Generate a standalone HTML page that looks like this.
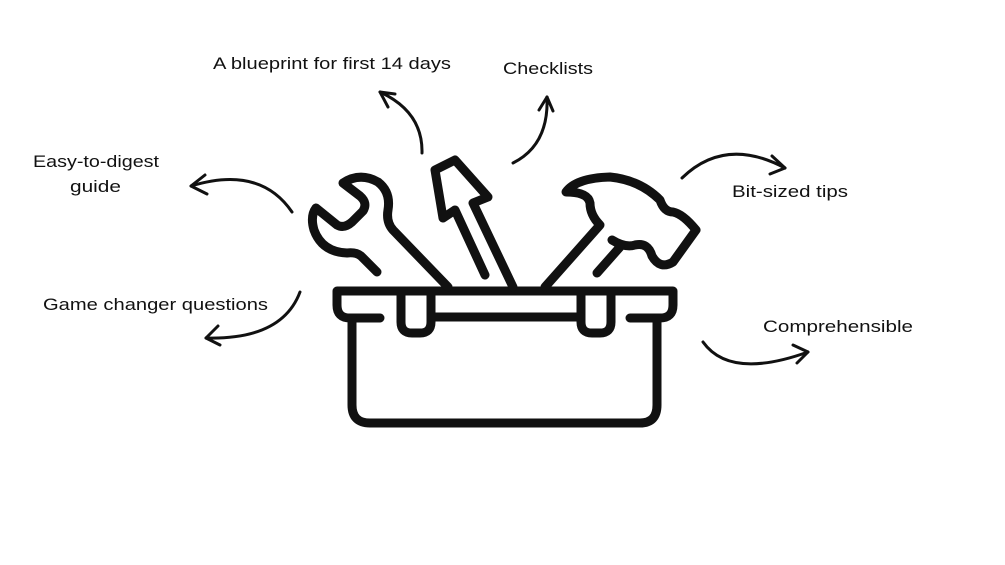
<!DOCTYPE html>
<html><head><meta charset="utf-8"><style>
html,body{margin:0;padding:0;background:#fff;width:1005px;height:565px;overflow:hidden}
svg text{font-family:"Liberation Sans",sans-serif;font-size:17px;fill:#111}
</style></head><body>
<svg width="1005" height="565" viewBox="0 0 1005 565" xmlns="http://www.w3.org/2000/svg">
<g fill="none" stroke="#111" stroke-linecap="round" stroke-linejoin="round">
<g stroke-width="9">
<path d="M380,318 H350 Q337,318 337,305 V291 H673 V305 Q673,318 660,318 H630"/>
<path d="M352,318 V405 Q352,423 370,423 H640 Q657,423 657,405 V318"/>
<path d="M401,291 V322 Q401,333 412,333 H420 Q431,333 431,322 V291"/>
<path d="M581,291 V322 Q581,333 592,333 H600 Q611,333 611,322 V291"/>
<path d="M431,317 H581"/>
<!-- wrench -->
<path d="M377,272 L361,256 Q356,252 347,253 Q322,252 314,230 Q310,216 316,208 L337,225 Q344,229 352,222 L363,211 Q368,203 360,196 L343,183 Q360,172 378,182 Q391,192 388,210 Q386,222 393,230 L448,287"/>
<!-- screwdriver -->
<path d="M485,275 L455,210 L443,218 L435,170 L455,160 L488,197 L473,203 L513,287"/>
<!-- hammer -->
<path d="M545,287 L600,225 Q590,215 590,203 Q588,192 566,192 Q576,178 610,177 Q640,180 660,200 Q664,212 673,212 Q683,214 696,230 L673,262 Q660,270 652,256 Q648,242 635,245 Q625,248 612,240"/>
<path d="M597,273 L620,247"/>
</g>
<g stroke-width="3">
<path d="M422,153 Q423,112 380,92"/><path d="M380,92 L388,107 M380,92 L395,94"/>
<path d="M513,163 Q549,145 547,97"/><path d="M547,97 L539,110 M547,97 L553,111"/>
<path d="M292,212 Q260,165 191,186"/><path d="M191,186 L205,175 M191,186 L207,194"/>
<path d="M300,292 Q282,340 206,338"/><path d="M206,338 L218,326 M206,338 L220,345"/>
<path d="M682,178 Q725,136 785,168"/><path d="M785,168 L772,156 M785,168 L770,174"/>
<path d="M703,342 Q730,380 808,352"/><path d="M808,352 L793,345 M808,352 L797,363"/>
</g>
</g>
<text x="213" y="69" textLength="238" lengthAdjust="spacingAndGlyphs">A blueprint for first 14 days</text>
<text x="503" y="74" textLength="90" lengthAdjust="spacingAndGlyphs">Checklists</text>
<text x="33" y="167" textLength="126" lengthAdjust="spacingAndGlyphs">Easy-to-digest</text>
<text x="70" y="192" textLength="51" lengthAdjust="spacingAndGlyphs">guide</text>
<text x="732" y="197" textLength="116" lengthAdjust="spacingAndGlyphs">Bit-sized tips</text>
<text x="43" y="310" textLength="225" lengthAdjust="spacingAndGlyphs">Game changer questions</text>
<text x="763" y="332" textLength="150" lengthAdjust="spacingAndGlyphs">Comprehensible</text>
</svg>
</body></html>
